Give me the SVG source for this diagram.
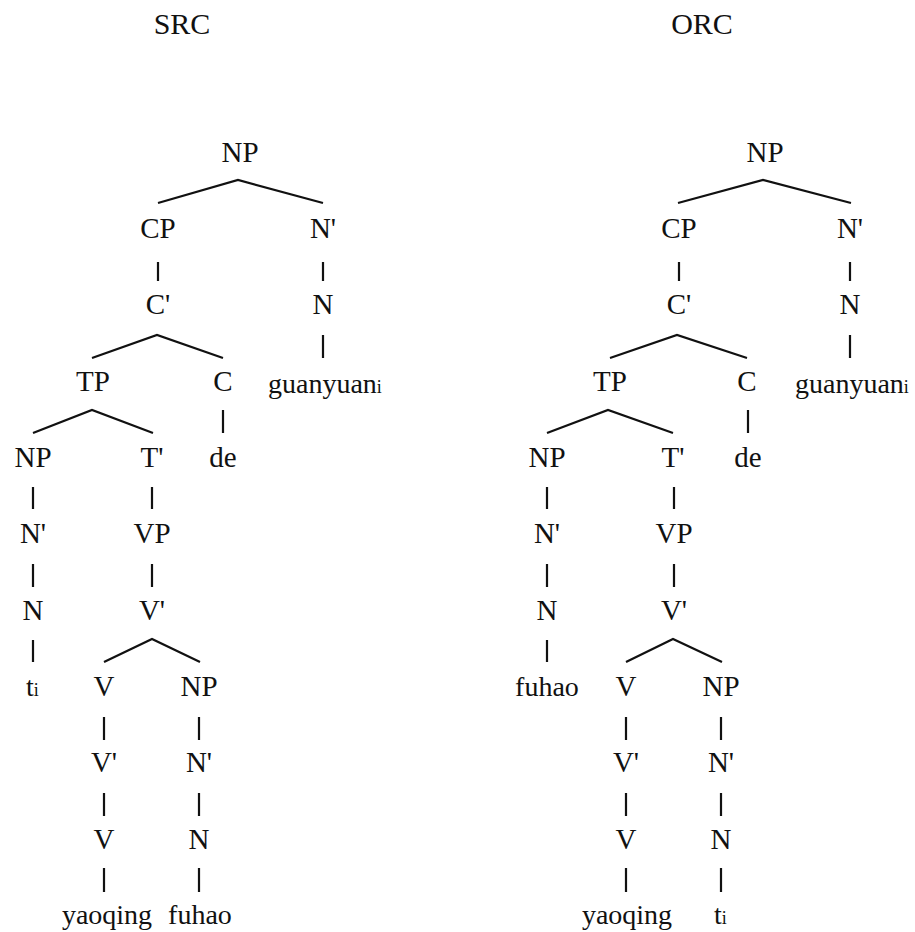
<svg xmlns="http://www.w3.org/2000/svg" width="915" height="932" viewBox="0 0 915 932">
  <style>
    .t { font-family: "Liberation Serif", "Times New Roman", serif; font-size: 29px; fill: #111; text-anchor: middle; }
    .w { font-family: "Liberation Serif", "Times New Roman", serif; font-size: 28px; fill: #111; }
    .ttl { font-family: "Liberation Serif", "Times New Roman", serif; font-size: 30px; fill: #111; text-anchor: middle; }
    .sub { font-size: 18px; }
    .e { fill: none; stroke: #111; stroke-width: 2.2; stroke-linejoin: miter; }
  </style>
  <rect width="915" height="932" fill="#fff"/>

  <!-- headings -->
  <text class="ttl" x="182" y="34">SRC</text>
  <text class="ttl" x="702" y="34">ORC</text>

  <!-- branches -->
  <g id="connectors">
    <!-- subject relative clause tree -->
    <path class="e" d="M158,203 L238,180 L323,203"/>
    <path class="e" d="M158,262 V281 M323,262 V281"/>
    <path class="e" d="M92,358 L157,335 L223,358 M323,335 V358"/>
    <path class="e" d="M33,433 L92,410 L153,433 M223,410 V433"/>
    <path class="e" d="M33,487 V509 M152,487 V509"/>
    <path class="e" d="M33,564 V587 M152,564 V587"/>
    <path class="e" d="M33,640 V662 M104,662 L152,639 L200,662"/>
    <path class="e" d="M104,717 V740 M199,717 V740"/>
    <path class="e" d="M104,793 V816 M199,793 V816"/>
    <path class="e" d="M104,868 V892 M199,868 V892"/>
    <!-- object relative clause tree -->
    <path class="e" d="M678,203 L763,180 L851,203"/>
    <path class="e" d="M679,262 V281 M850,262 V281"/>
    <path class="e" d="M610,358 L677,335 L747,358 M850,335 V358"/>
    <path class="e" d="M547,433 L608,410 L673,433 M748,410 V433"/>
    <path class="e" d="M547,487 V509 M674,487 V509"/>
    <path class="e" d="M547,564 V587 M674,564 V587"/>
    <path class="e" d="M547,640 V662 M626,662 L673,639 L722,662"/>
    <path class="e" d="M626,717 V740 M721,717 V740"/>
    <path class="e" d="M626,793 V816 M721,793 V816"/>
    <path class="e" d="M626,868 V892 M721,868 V892"/>
  </g>

  <!-- SRC nodes -->
  <g id="src-np"><text class="t" x="240" y="162">NP</text></g>
  <g id="src-cp"><text class="t" x="158" y="238">CP</text></g>
  <g id="src-nbar"><text class="t" x="323" y="238">N'</text></g>
  <g id="src-cbar"><text class="t" x="158" y="314">C'</text></g>
  <g id="src-n"><text class="t" x="323" y="314">N</text></g>
  <g id="src-tp"><text class="t" x="93" y="391">TP</text></g>
  <g id="src-c"><text class="t" x="223" y="391">C</text></g>
  <g id="src-guanyuan"><text class="w" x="268" y="393">guanyuan<tspan class="sub">i</tspan></text></g>
  <g id="src-subj-np"><text class="t" x="33" y="467">NP</text></g>
  <g id="src-tbar"><text class="t" x="152" y="467">T'</text></g>
  <g id="src-de"><text class="t" x="223" y="467">de</text></g>
  <g id="src-subj-nbar"><text class="t" x="33" y="543">N'</text></g>
  <g id="src-vp"><text class="t" x="152" y="543">VP</text></g>
  <g id="src-subj-n"><text class="t" x="33" y="620">N</text></g>
  <g id="src-vbar"><text class="t" x="152" y="620">V'</text></g>
  <g id="src-trace"><text class="w" x="26" y="696">t<tspan class="sub">i</tspan></text></g>
  <g id="src-v"><text class="t" x="104" y="696">V</text></g>
  <g id="src-obj-np"><text class="t" x="199" y="696">NP</text></g>
  <g id="src-v-bar2"><text class="t" x="104" y="772">V'</text></g>
  <g id="src-obj-nbar"><text class="t" x="199" y="772">N'</text></g>
  <g id="src-v-head"><text class="t" x="104" y="849">V</text></g>
  <g id="src-obj-n"><text class="t" x="199" y="849">N</text></g>
  <g id="src-yaoqing"><text class="w" x="107" y="924" text-anchor="middle">yaoqing</text></g>
  <g id="src-fuhao"><text class="w" x="200" y="924" text-anchor="middle">fuhao</text></g>

  <!-- ORC nodes -->
  <g id="orc-np"><text class="t" x="765" y="162">NP</text></g>
  <g id="orc-cp"><text class="t" x="679" y="238">CP</text></g>
  <g id="orc-nbar"><text class="t" x="850" y="238">N'</text></g>
  <g id="orc-cbar"><text class="t" x="679" y="314">C'</text></g>
  <g id="orc-n"><text class="t" x="850" y="314">N</text></g>
  <g id="orc-tp"><text class="t" x="610" y="391">TP</text></g>
  <g id="orc-c"><text class="t" x="747" y="391">C</text></g>
  <g id="orc-guanyuan"><text class="w" x="795" y="393">guanyuan<tspan class="sub">i</tspan></text></g>
  <g id="orc-subj-np"><text class="t" x="547" y="467">NP</text></g>
  <g id="orc-tbar"><text class="t" x="673" y="467">T'</text></g>
  <g id="orc-de"><text class="t" x="748" y="467">de</text></g>
  <g id="orc-subj-nbar"><text class="t" x="547" y="543">N'</text></g>
  <g id="orc-vp"><text class="t" x="674" y="543">VP</text></g>
  <g id="orc-subj-n"><text class="t" x="547" y="620">N</text></g>
  <g id="orc-vbar"><text class="t" x="674" y="620">V'</text></g>
  <g id="orc-fuhao"><text class="w" x="547" y="696" text-anchor="middle">fuhao</text></g>
  <g id="orc-v"><text class="t" x="626" y="696">V</text></g>
  <g id="orc-obj-np"><text class="t" x="721" y="696">NP</text></g>
  <g id="orc-v-bar2"><text class="t" x="626" y="772">V'</text></g>
  <g id="orc-obj-nbar"><text class="t" x="721" y="772">N'</text></g>
  <g id="orc-v-head"><text class="t" x="626" y="849">V</text></g>
  <g id="orc-obj-n"><text class="t" x="721" y="849">N</text></g>
  <g id="orc-yaoqing"><text class="w" x="627" y="924" text-anchor="middle">yaoqing</text></g>
  <g id="orc-trace"><text class="w" x="714" y="924">t<tspan class="sub">i</tspan></text></g>
</svg>
